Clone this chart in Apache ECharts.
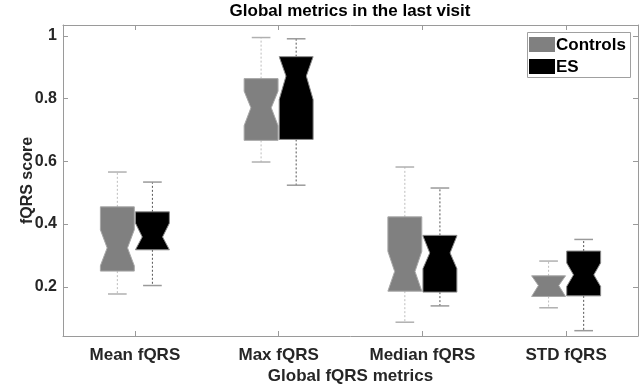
<!DOCTYPE html>
<html>
<head>
<meta charset="utf-8">
<script src="https://cdn.jsdelivr.net/npm/echarts@6/dist/echarts.min.js"></script>
<style>html,body{margin:0;padding:0;background:#fff}#c{width:641px;height:385px}</style>
</head>
<body>
<div id="c"></div>
<script>
// Categories and tick labels
var categories = ['Mean fQRS', 'Max fQRS', 'Median fQRS', 'STD fQRS'];
var yTicks = [0.2, 0.4, 0.6, 0.8, 1];
var seriesNames = ['Controls', 'ES'];
// Each row: [lowerWhisker, q1, notchLow, median, notchHigh, q3, upperWhisker]
var controls = [
  [0.177, 0.250, 0.267, 0.324, 0.382, 0.455, 0.566],
  [0.598, 0.667, 0.714, 0.771, 0.824, 0.864, 0.995],
  [0.087, 0.186, 0.186, 0.249, 0.313, 0.423, 0.582],
  [0.133, 0.169, 0.169, 0.204, 0.235, 0.235, 0.282]
];
var es = [
  [0.204, 0.318, 0.318, 0.359, 0.403, 0.439, 0.534],
  [0.524, 0.670, 0.797, 0.872, 0.934, 0.934, 0.991],
  [0.139, 0.183, 0.258, 0.308, 0.362, 0.364, 0.515],
  [0.060, 0.171, 0.201, 0.238, 0.276, 0.314, 0.351]
];
var yMin = 0.043, yMax = 1.035;

function makeRender(side, fill, whiskerColor, capColor, edgeColor) {
  return function (params, api) {
    var ci = api.value(0);
    var lw = api.value(1), q1 = api.value(2), nlo = api.value(3), med = api.value(4),
        nhi = api.value(5), q3 = api.value(6), uw = api.value(7);
    var band = api.size([1, 0])[0];
    var cx = api.coord([ci, med])[0] + side * band * 0.122;
    var hw = band * 0.118;
    var inset = hw * 0.4;
    var capHw = hw * 0.55;
    function Y(v) { return api.coord([ci, v])[1]; }
    var L = cx - hw, R = cx + hw;
    var pts = [
      [L, Y(q3)], [R, Y(q3)], [R, Y(nhi)], [R - inset, Y(med)], [R, Y(nlo)], [R, Y(q1)],
      [L, Y(q1)], [L, Y(nlo)], [L + inset, Y(med)], [L, Y(nhi)]
    ];
    var dash = { stroke: whiskerColor, lineWidth: 1, lineDash: [2, 2] };
    var cap = { stroke: capColor, lineWidth: 1.5 };
    return {
      type: 'group',
      children: [
        { type: 'line', shape: { x1: cx, y1: Y(q3), x2: cx, y2: Y(uw) }, style: dash },
        { type: 'line', shape: { x1: cx, y1: Y(q1), x2: cx, y2: Y(lw) }, style: dash },
        { type: 'line', shape: { x1: cx - capHw, y1: Y(uw), x2: cx + capHw, y2: Y(uw) }, style: cap },
        { type: 'line', shape: { x1: cx - capHw, y1: Y(lw), x2: cx + capHw, y2: Y(lw) }, style: cap },
        { type: 'polygon', shape: { points: pts }, style: { fill: fill, stroke: edgeColor, lineWidth: 1 } }
      ]
    };
  };
}

function toData(rows) {
  return rows.map(function (r, i) { return [i].concat(r); });
}

var frame = '#9a9a9a';
var fam = 'Liberation Sans, Arial, sans-serif';
var labelFont = { fontFamily: fam, fontWeight: 'bold', color: '#262626' };
var legendFill = ['#808080', '#000000'];

var chart = echarts.init(document.getElementById('c'), null, { renderer: 'canvas' });
chart.setOption({
  animation: false,
  backgroundColor: '#fff',
  title: {
    text: 'Global metrics in the last visit',
    left: 350, top: 3, padding: 0, textAlign: 'center',
    textStyle: { fontFamily: fam, fontWeight: 'bold', fontSize: 17, color: '#000' }
  },
  legend: { show: false },
  graphic: [
    { type: 'rect', shape: { x: 527.5, y: 32.5, width: 103, height: 45 }, style: { fill: '#fff', stroke: '#a0a0a0', lineWidth: 1 }, z: 10 },
    { type: 'rect', shape: { x: 529, y: 37, width: 26, height: 15 }, style: { fill: legendFill[0] }, z: 11 },
    { type: 'rect', shape: { x: 529, y: 59, width: 26, height: 15 }, style: { fill: legendFill[1] }, z: 11 },
    { type: 'text', x: 556, y: 45, style: { text: seriesNames[0], fill: '#000', font: 'bold 17px ' + fam, textVerticalAlign: 'middle', verticalAlign: 'middle' }, z: 11 },
    { type: 'text', x: 556, y: 67, style: { text: seriesNames[1], fill: '#000', font: 'bold 17px ' + fam, textVerticalAlign: 'middle', verticalAlign: 'middle' }, z: 11 }
  ],
  grid: { left: 63, right: 3, top: 25, bottom: 49, outerBoundsMode: 'none', containLabel: false },
  xAxis: [{
    type: 'category', data: categories, boundaryGap: true,
    name: 'Global fQRS metrics', nameLocation: 'middle', nameGap: 32, nameMoveOverlap: false,
    nameTextStyle: Object.assign({ fontSize: 17 }, labelFont),
    axisLine: { show: true, lineStyle: { color: frame } },
    axisTick: { show: true, inside: true, alignWithLabel: true, length: 5, lineStyle: { color: frame } },
    axisLabel: Object.assign({ fontSize: 17, margin: 11 }, labelFont),
    splitLine: { show: false }
  }, {
    type: 'category', data: categories, boundaryGap: true, position: 'top',
    axisLine: { show: true, lineStyle: { color: frame } },
    axisTick: { show: true, inside: true, alignWithLabel: true, length: 5, lineStyle: { color: frame } },
    axisLabel: { show: false }, splitLine: { show: false }
  }],
  yAxis: [{
    type: 'value', min: yMin, max: yMax, splitNumber: 5,
    name: 'fQRS score', nameLocation: 'middle', nameGap: 27, nameRotate: 90, nameMoveOverlap: false,
    nameTextStyle: Object.assign({ fontSize: 16 }, labelFont),
    axisLine: { show: true, lineStyle: { color: frame } },
    axisTick: { show: true, inside: true, length: 5, lineStyle: { color: frame } },
    axisLabel: Object.assign({
      fontSize: 16, margin: 6, showMinLabel: false, showMaxLabel: false,
      formatter: function (v) {
        for (var i = 0; i < yTicks.length; i++) if (Math.abs(v - yTicks[i]) < 1e-6) return String(yTicks[i]);
        return '';
      }
    }, labelFont),
    splitLine: { show: false }
  }, {
    type: 'value', min: yMin, max: yMax, splitNumber: 5, position: 'right',
    axisLine: { show: true, lineStyle: { color: frame } },
    axisTick: { show: true, inside: true, length: 5, lineStyle: { color: frame } },
    axisLabel: { show: false }, splitLine: { show: false }
  }],
  series: [{
    name: seriesNames[0], type: 'custom',
    itemStyle: { color: '#808080' },
    renderItem: makeRender(-1, '#808080', '#bdbdbd', '#b0b0b0', '#a8a8a8'),
    encode: { x: 0, y: [1, 2, 3, 4, 5, 6, 7] },
    data: toData(controls)
  }, {
    name: seriesNames[1], type: 'custom',
    itemStyle: { color: '#000000' },
    renderItem: makeRender(1, '#000000', '#555555', '#9a9a9a', '#8a8a8a'),
    encode: { x: 0, y: [1, 2, 3, 4, 5, 6, 7] },
    data: toData(es)
  }]
});
</script>
</body>
</html>
